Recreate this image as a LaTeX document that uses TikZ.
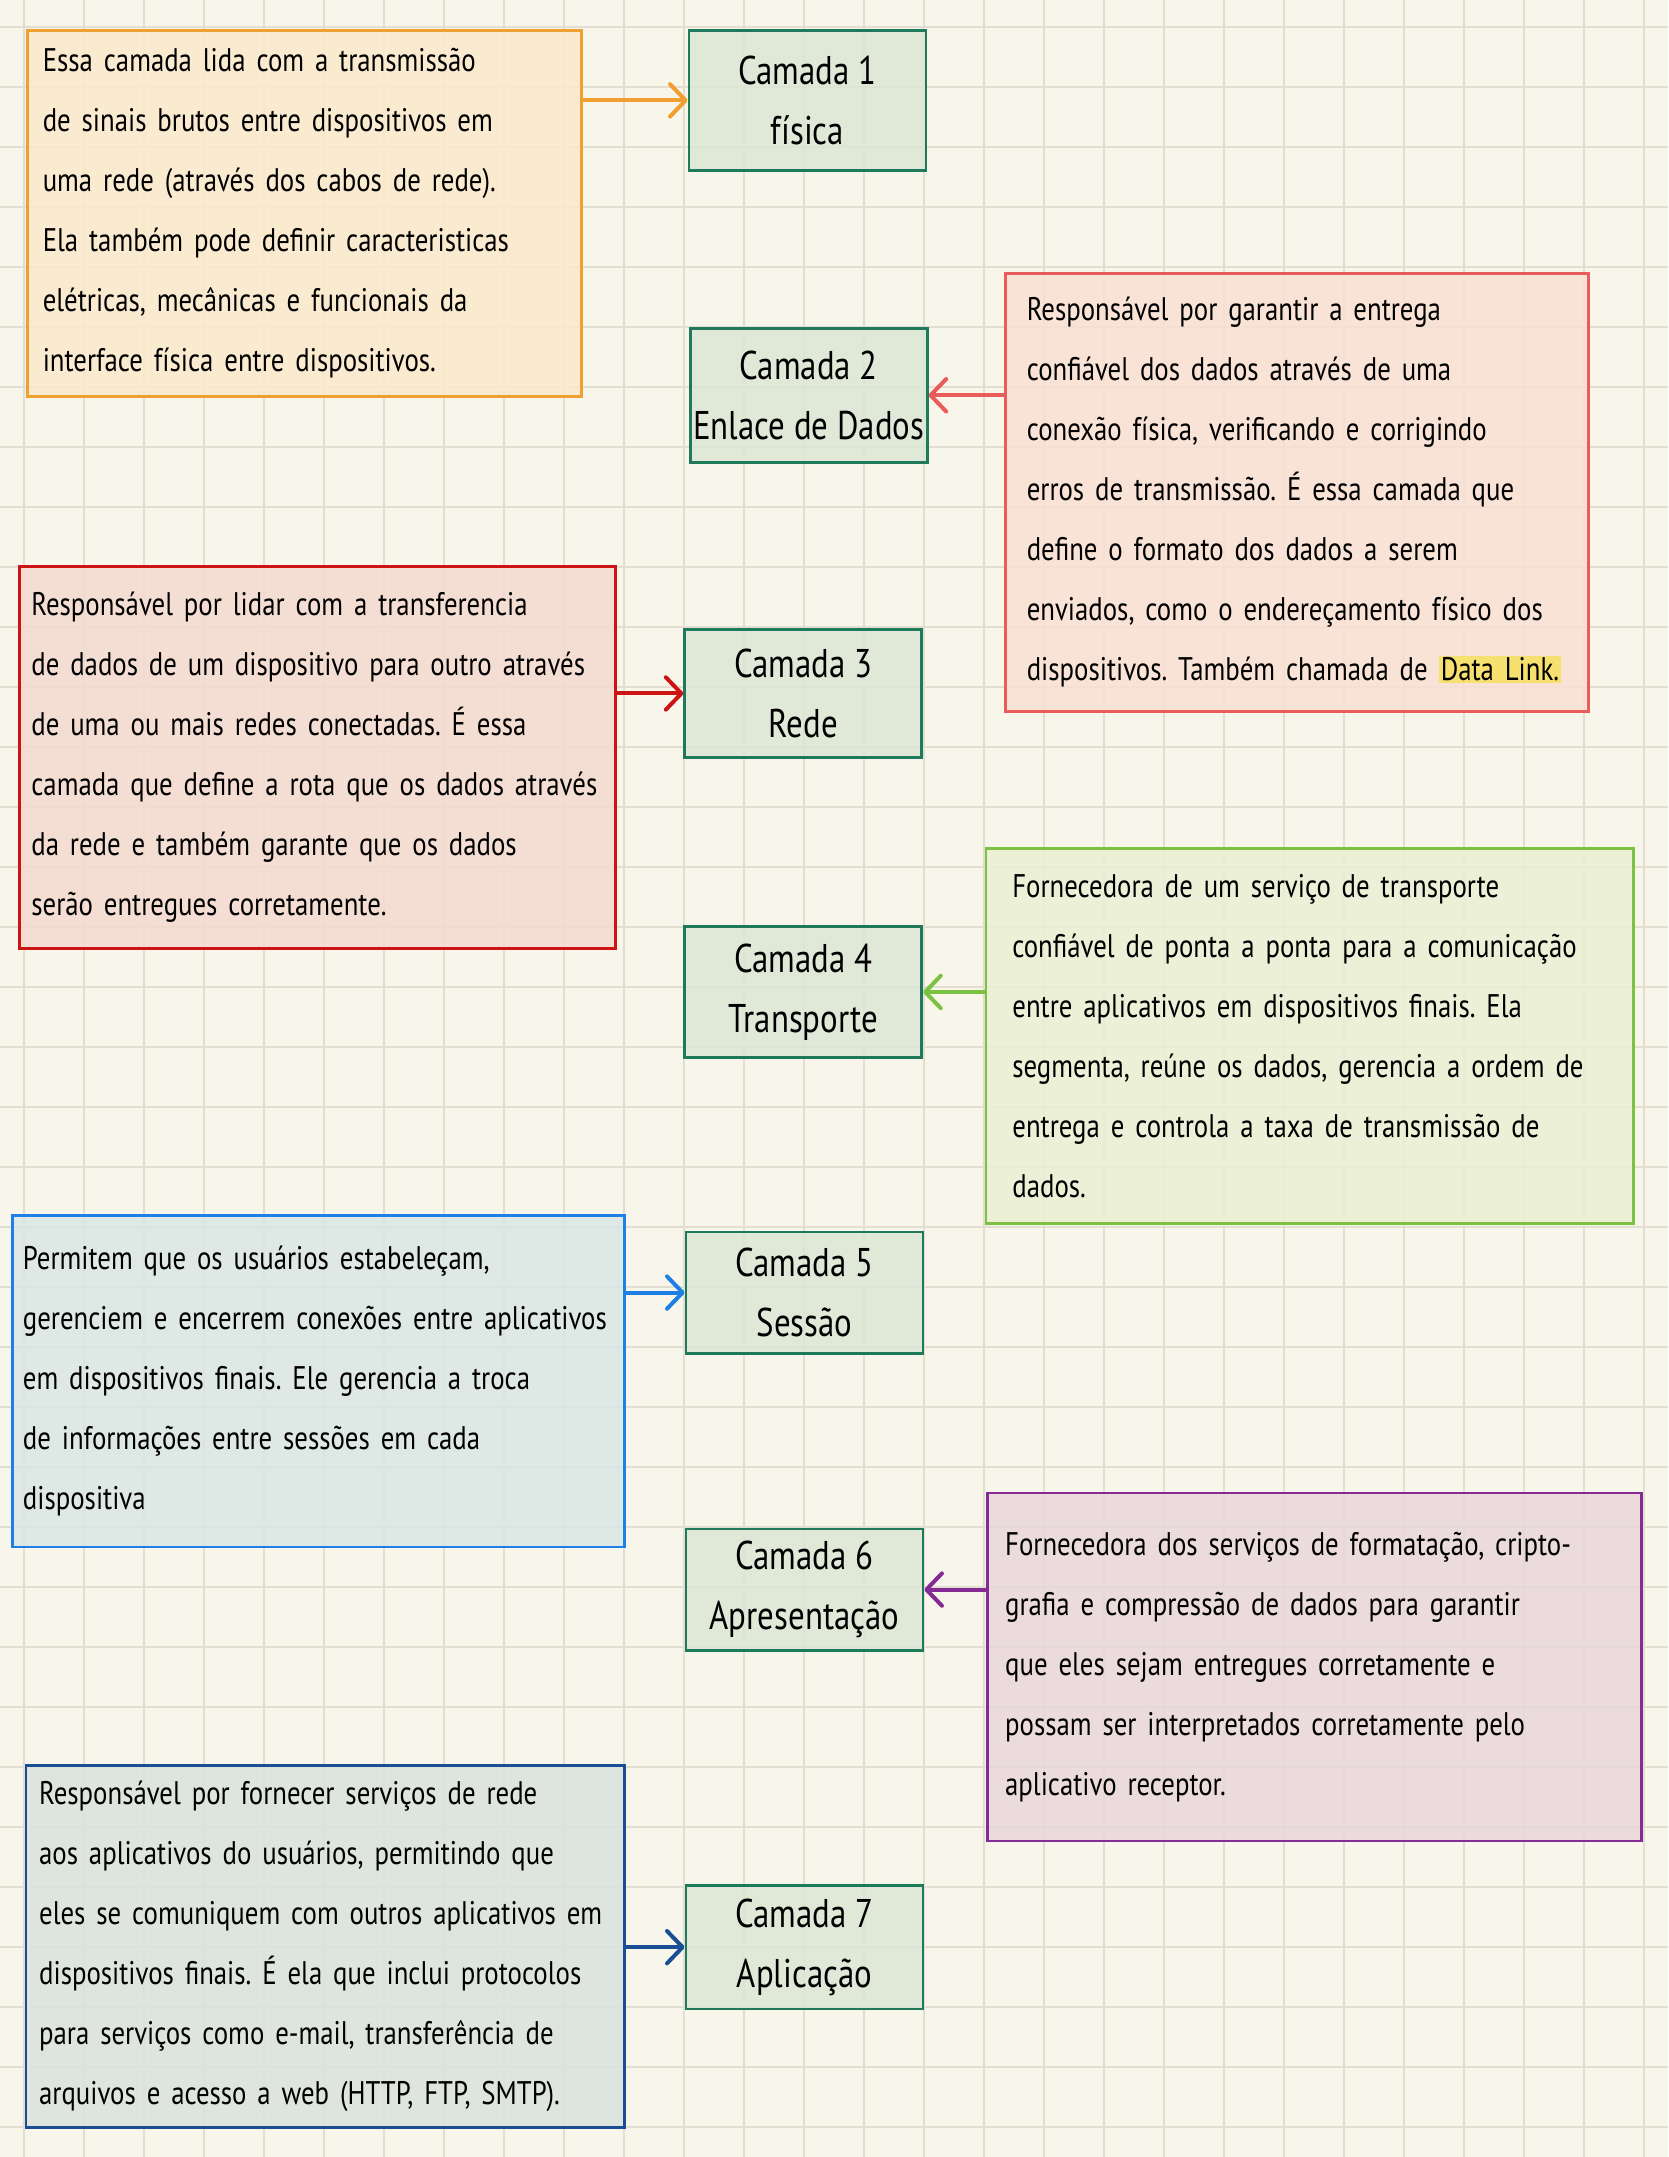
\documentclass[tikz,border=0pt]{standalone}
\usepackage{fontspec}
\usetikzlibrary{arrows.meta}
\newfontfamily\handfont[FakeStretch=0.82]{PT Sans}
\newcommand\desctext{\handfont\fontsize{15.5}{28.45}\selectfont\frenchspacing}
\newcommand\layertext{\handfont\fontsize{19}{28.45}\selectfont}
\definecolor{paper}{HTML}{F8F6EA}
\definecolor{gridcol}{HTML}{E2DFD2}
\definecolor{layerline}{HTML}{1F7A5C}
\definecolor{layerfill}{HTML}{DCE7D5}
\definecolor{orangeline}{HTML}{F0A030}
\definecolor{orangefill}{HTML}{FBEACC}
\definecolor{pinkline}{HTML}{E85C5C}
\definecolor{pinkfill}{HTML}{F8E0D3}
\definecolor{redline}{HTML}{CC1414}
\definecolor{redfill}{HTML}{F4DACF}
\definecolor{limeline}{HTML}{7DC142}
\definecolor{limefill}{HTML}{E9F0D4}
\definecolor{blueline}{HTML}{1E80E6}
\definecolor{bluefill}{HTML}{DAE6E5}
\definecolor{purpleline}{HTML}{862A96}
\definecolor{purplefill}{HTML}{E9D7DA}
\definecolor{navyline}{HTML}{1A4E94}
\definecolor{navyfill}{HTML}{DAE3DE}
\definecolor{hlyellow}{HTML}{F5E070}
\setlength{\fboxsep}{1pt}

\begin{document}
\begin{tikzpicture}[
	desc/.style={rectangle, anchor=north west, align=left, inner ysep=0.1cm, line width=1.3pt, fill opacity=0.85, text opacity=1, font=\desctext},
	layer/.style={rectangle, anchor=north west, align=center, draw=layerline, fill=layerfill, inner xsep=0.02cm, minimum width=3.95cm, line width=1.3pt, fill opacity=0.85, text opacity=1, font=\layertext},
	arr/.style={line width=1.9pt, -{Straight Barb[length=2.6mm,width=5.4mm,round]}},
	gridline/.style={line width=0.9pt, color=gridcol}]
	\useasboundingbox (0,0) rectangle (27.8,-35.95);
	\fill[paper] (0,0) rectangle (27.8,-35.95);
	\begin{scope}
		\clip (0,0) rectangle (27.8,-35.95);
		\draw[gridline, shift={(0.4,-0.45)}] (-1,-37) grid (28,1);
	\end{scope}
	
	\node[layer, minimum height=2.34cm] (c1) at (11.46,-0.48) {Camada 1\\física};
	\node[layer, minimum height=2.23cm] (c2) at (11.48,-5.45) {Camada 2\\Enlace de Dados};
	\node[layer, minimum height=2.13cm] (c3) at (11.39,-10.47) {Camada 3\\Rede};
	\node[layer, minimum height=2.18cm] (c4) at (11.39,-15.42) {Camada 4\\Transporte};
	\node[layer, minimum height=2.02cm] (c5) at (11.41,-20.51) {Camada 5\\Sessão};
	\node[layer, minimum height=2.02cm] (c6) at (11.41,-25.46) {Camada 6\\Apresentação};
	\node[layer, minimum height=2.06cm] (c7) at (11.41,-31.40) {Camada 7\\Aplicação};
	
	\node[desc, draw=orangeline, fill=orangefill, inner xsep=0.25cm, text width=8.73cm, minimum height=6.10cm] (d1) at (0.44,-0.48)
		{Essa camada lida com a transmissão\\de sinais brutos entre dispositivos em\\uma rede (através dos cabos de rede).\\Ela também pode definir caracteristicas\\elétricas, mecânicas e funcionais da\\interface física entre dispositivos.};
	\node[desc, draw=pinkline, fill=pinkfill, inner xsep=0.36cm, text width=9.0cm, minimum height=7.29cm] (d2) at (16.73,-4.54)
		{Responsável por garantir a entrega\\confiável dos dados através de uma\\conexão física, verificando e corrigindo\\erros de transmissão. É essa camada que\\define o formato dos dados a serem\\enviados, como o endereçamento físico dos\\dispositivos. Também chamada de \colorbox{hlyellow}{Data Link.}};
	\node[desc, draw=redline, fill=redfill, inner xsep=0.2cm, text width=9.54cm, minimum height=6.37cm] (d3) at (0.30,-9.42)
		{Responsável por lidar com a transferencia\\de dados de um dispositivo para outro através\\de uma ou mais redes conectadas. É essa\\camada que define a rota que os dados através\\da rede e também garante que os dados\\serão entregues corretamente.};
	\node[desc, draw=limeline, fill=limefill, inner xsep=0.44cm, text width=9.91cm, minimum height=6.25cm] (d4) at (16.41,-14.12)
		{Fornecedora de um serviço de transporte\\confiável de ponta a ponta para a comunicação\\entre aplicativos em dispositivos finais. Ela\\segmenta, reúne os dados, gerencia a ordem de\\entrega e controla a taxa de transmissão de\\dados.};
	\node[desc, draw=blueline, fill=bluefill, inner xsep=0.18cm, text width=9.84cm, minimum height=5.52cm] (d5) at (0.18,-20.24)
		{Permitem que os usuários estabeleçam,\\gerenciem e encerrem conexões entre aplicativos\\em dispositivos finais. Ele gerencia a troca\\de informações entre sessões em cada\\dispositiva};
	\node[desc, draw=purpleline, fill=purplefill, inner xsep=0.3cm, text width=10.31cm, minimum height=5.80cm] (d6) at (16.43,-24.86)
		{Fornecedora dos serviços de formatação, cripto-\\grafia e compressão de dados para garantir\\que eles sejam entregues corretamente e\\possam ser interpretados corretamente pelo\\aplicativo receptor.};
	\node[desc, draw=navyline, fill=navyfill, inner xsep=0.22cm, text width=9.53cm, minimum height=6.03cm] (d7) at (0.41,-29.40)
		{Responsável por fornecer serviços de rede\\aos aplicativos do usuários, permitindo que\\eles se comuniquem com outros aplicativos em\\dispositivos finais. É ela que inclui protocolos\\para serviços como e-mail, transferência de\\arquivos e acesso a web (HTTP, FTP, SMTP).};
	
	\draw[arr, orangeline] (d1.east |- c1.west) -- (c1.west);
	\draw[arr, pinkline] (d2.west |- c2.east) -- (c2.east);
	\draw[arr, redline] (d3.east |- c3.west) -- (c3.west);
	\draw[arr, limeline] (d4.west |- c4.east) -- (c4.east);
	\draw[arr, blueline] (d5.east |- c5.west) -- (c5.west);
	\draw[arr, purpleline] (d6.west |- c6.east) -- (c6.east);
	\draw[arr, navyline] (d7.east |- c7.west) -- (c7.west);
\end{tikzpicture}
\end{document}
